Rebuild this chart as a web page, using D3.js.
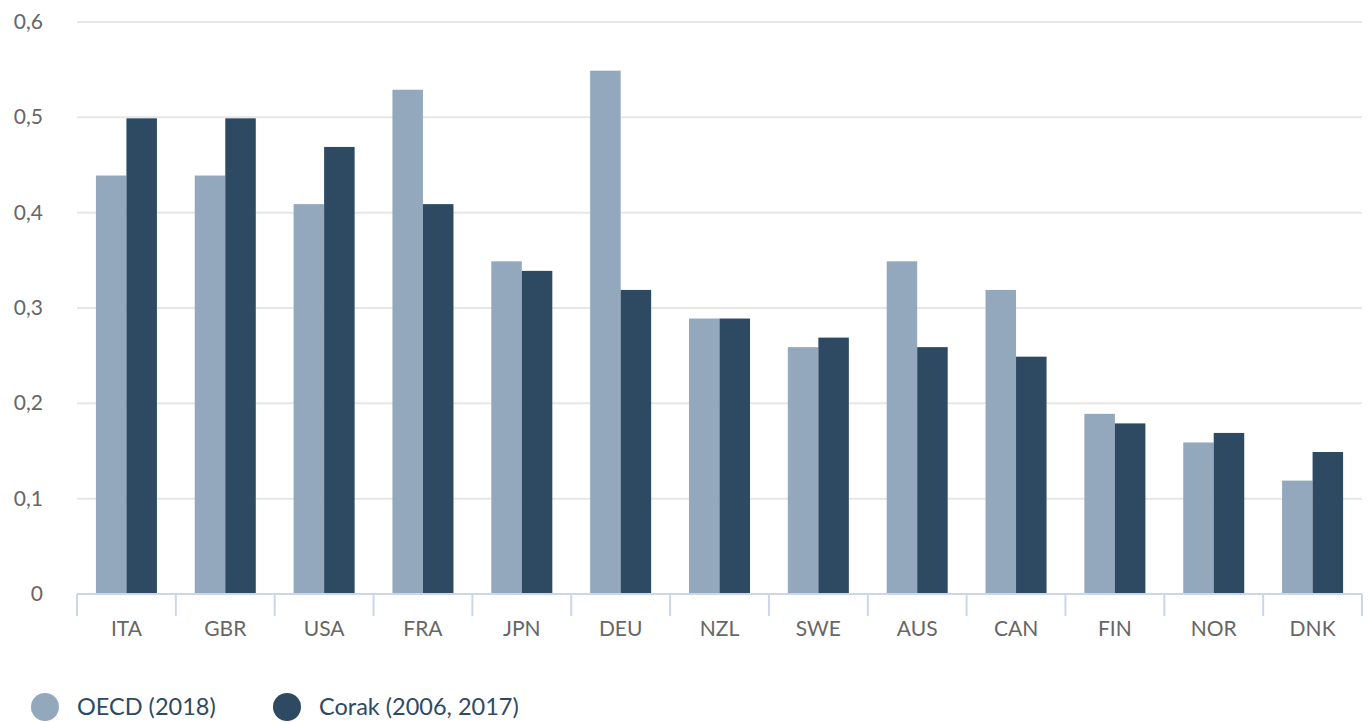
<!DOCTYPE html>
<html>
<head>
<meta charset="utf-8">
<script src="https://cdn.jsdelivr.net/npm/d3@7"></script>
<style>
body { margin: 0; background: #fff; }
text { font-family: "Source Sans Pro", Lato, "Noto Sans", sans-serif; }
</style>
</head>
<body>
<svg width="1370" height="722"></svg>
<script>
// data
var countries = ["ITA","GBR","USA","FRA","JPN","DEU","NZL","SWE","AUS","CAN","FIN","NOR","DNK"]
var oecd  = [0.44, 0.44, 0.41, 0.53, 0.35, 0.55, 0.29, 0.26, 0.35, 0.32, 0.19, 0.16, 0.12]
var corak = [0.50, 0.50, 0.47, 0.41, 0.34, 0.32, 0.29, 0.27, 0.26, 0.25, 0.18, 0.17, 0.15]
var seriesNames = ["OECD (2018)", "Corak (2006, 2017)"]
var colors = ["#93a8bc", "#2e4a63"]
var yTicks = [0, 0.1, 0.2, 0.3, 0.4, 0.5, 0.6]

var plot = {left:77, right:1362, top:22, bottom:594}

var svg = d3.select("svg")

var xScale = d3.scaleBand()
    .domain(countries)
    .range([plot.left, plot.right])

var inner = d3.scaleBand()
    .domain([0, 1])
    .range([0, xScale.bandwidth()])
    .paddingOuter(0.62)
    .paddingInner(0)

var yScale = d3.scaleLinear()
    .domain([0, 0.6])
    .range([plot.bottom, plot.top])

// gridlines
svg.append("g")
    .selectAll("line")
    .data(yTicks.slice(1))
    .enter()
    .append("line")
    .attr("x1", plot.left)
    .attr("x2", plot.right)
    .attr("y1", function(d){ return yScale(d) })
    .attr("y2", function(d){ return yScale(d) })
    .attr("stroke", "#e6e6e6")
    .attr("stroke-width", 2)

// y labels
svg.append("g")
    .selectAll("text")
    .data(yTicks)
    .enter()
    .append("text")
    .attr("x", 43)
    .attr("y", function(d){ return yScale(d) + 7 })
    .attr("text-anchor", "end")
    .attr("font-size", 21)
    .attr("fill", "#666666")
    .text(function(d){ return d === 0 ? "0" : d3.format(".1f")(d).replace(".", ",") })

// bars
var groups = svg.append("g")
    .selectAll("g")
    .data(countries)
    .enter()
    .append("g")
    .attr("transform", function(d){ return "translate(" + xScale(d) + ",0)" })

groups.append("rect")
    .attr("x", inner(0))
    .attr("width", inner.bandwidth())
    .attr("y", function(d, i){ return yScale(oecd[i]) + 1 })
    .attr("height", function(d, i){ return plot.bottom - yScale(oecd[i]) - 1 })
    .attr("fill", colors[0])

groups.append("rect")
    .attr("x", inner(1))
    .attr("width", inner.bandwidth())
    .attr("y", function(d, i){ return yScale(corak[i]) + 1 })
    .attr("height", function(d, i){ return plot.bottom - yScale(corak[i]) - 1 })
    .attr("fill", colors[1])

// x axis
var xAxis = d3.axisBottom(xScale).tickSize(0).tickPadding(0)
var ax = svg.append("g")
    .attr("transform", "translate(0," + plot.bottom + ")")
    .call(xAxis)
ax.select(".domain").attr("stroke", "#ccd6eb").attr("stroke-width", 2)
    .attr("d", "M" + plot.left + ",0H" + plot.right)
ax.selectAll(".tick text")
    .attr("y", 42)
    .attr("dy", 0)
    .attr("font-size", 21)
    .attr("font-family", "\"Source Sans Pro\", Lato, \"Noto Sans\", sans-serif")
    .attr("fill", "#666666")

// tick separators at band edges
var edges = countries.map(function(c){ return xScale(c) }).concat([plot.right])
ax.selectAll(".sep")
    .data(edges)
    .enter()
    .append("line")
    .attr("class", "sep")
    .attr("x1", function(d){ return d })
    .attr("x2", function(d){ return d })
    .attr("y1", 0)
    .attr("y2", 22)
    .attr("stroke", "#ccd6eb")
    .attr("stroke-width", 2)

// legend
var legend = svg.append("g")
    .selectAll("g")
    .data(seriesNames)
    .enter()
    .append("g")
    .attr("transform", function(d, i){ return "translate(" + [45, 287][i] + ",707)" })

legend.append("circle")
    .attr("r", 14)
    .attr("fill", function(d, i){ return colors[i] })

legend.append("text")
    .attr("x", 32)
    .attr("y", 8)
    .attr("font-size", 23.5)
    .attr("fill", "#2e4a63")
    .text(function(d){ return d })
</script>
</body>
</html>
